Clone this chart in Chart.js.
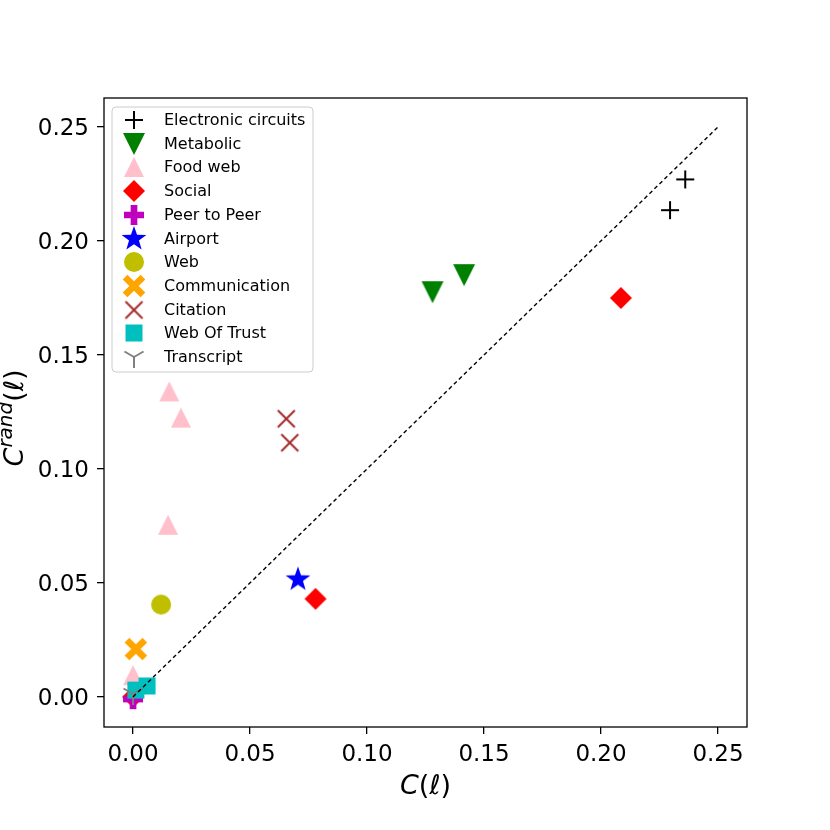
<!DOCTYPE html>
<html>
<head>
<meta charset="utf-8">
<script src="https://cdn.jsdelivr.net/npm/chart.js@4.4.0/dist/chart.umd.min.js"></script>
<style>
  body { margin: 0; background: #fff; }
  #wrap { width: 830px; height: 830px; }
</style>
</head>
<body>
<div id="wrap"><canvas id="myChart" width="830" height="830"></canvas></div>
<script>
// series names (legend order)
const categories = ['Electronic circuits', 'Metabolic', 'Food web', 'Social', 'Peer to Peer',
  'Airport', 'Web', 'Communication', 'Citation', 'Web Of Trust', 'Transcript']

// values: C(l) on x, Crand(l) on y
const circuitsX = [0.236, 0.2295]
const circuitsY = [0.227, 0.2135]
const metabolicX = [0.128, 0.1415]
const metabolicY = [0.1775, 0.185]
const foodwebX = [0.0155, 0.0205, 0.015, 0.0]
const foodwebY = [0.134, 0.1225, 0.0755, 0.0095]
const socialX = [0.2085, 0.078, 0.0]
const socialY = [0.175, 0.043, 0.0]
const p2pX = [0.0]
const p2pY = [-0.001]
const airportX = [0.0705]
const airportY = [0.0515]
const webX = [0.012]
const webY = [0.0405]
const commX = [0.0012]
const commY = [0.021]
const citationX = [0.0655, 0.067]
const citationY = [0.122, 0.1115]
const trustX = [0.0012, 0.006]
const trustY = [0.003, 0.0048]
const transcriptX = [0.0]
const transcriptY = [0.0013]

const xTicks = [0, 0.05, 0.10, 0.15, 0.20, 0.25]
const yTicks = [0, 0.05, 0.10, 0.15, 0.20, 0.25]

// build a marker image like matplotlib's
function marker(kind, color, size) {
  let c = document.createElement('canvas')
  c.width = c.height = size + 6
  let g = c.getContext('2d')
  let m = c.width / 2, r = size / 2
  g.translate(m, m)
  g.fillStyle = color
  g.strokeStyle = color
  g.lineWidth = 2
  g.beginPath()
  switch (kind) {
    case 'plus':
      g.moveTo(-r, 0); g.lineTo(r, 0); g.moveTo(0, -r); g.lineTo(0, r); g.stroke()
      break
    case 'x':
      g.moveTo(-r, -r); g.lineTo(r, r); g.moveTo(-r, r); g.lineTo(r, -r); g.stroke()
      break
    case 'triDown':
      g.moveTo(-r, -r); g.lineTo(r, -r); g.lineTo(0, r); g.closePath(); g.fill()
      break
    case 'triUp':
      g.moveTo(-r, r); g.lineTo(r, r); g.lineTo(0, -r); g.closePath(); g.fill()
      break
    case 'diamond':
      g.moveTo(0, -r); g.lineTo(r, 0); g.lineTo(0, r); g.lineTo(-r, 0); g.closePath(); g.fill()
      break
    case 'square':
      g.fillRect(-r, -r, size, size)
      break
    case 'circle':
      g.arc(0, 0, r, 0, Math.PI * 2); g.fill()
      break
    case 'fatPlus': {
      let a = r / 3
      g.moveTo(-a, -r); g.lineTo(a, -r); g.lineTo(a, -a); g.lineTo(r, -a); g.lineTo(r, a); g.lineTo(a, a)
      g.lineTo(a, r); g.lineTo(-a, r); g.lineTo(-a, a); g.lineTo(-r, a); g.lineTo(-r, -a); g.lineTo(-a, -a)
      g.closePath(); g.fill()
      break
    }
    case 'fatX': {
      g.rotate(Math.PI / 4)
      let a = r * 0.3, b = r * 1.15
      g.moveTo(-a, -b); g.lineTo(a, -b); g.lineTo(a, -a); g.lineTo(b, -a); g.lineTo(b, a); g.lineTo(a, a)
      g.lineTo(a, b); g.lineTo(-a, b); g.lineTo(-a, a); g.lineTo(-b, a); g.lineTo(-b, -a); g.lineTo(-a, -a)
      g.closePath(); g.fill()
      break
    }
    case 'star':
      for (let i = 0; i < 10; i++) {
        let ang = -Math.PI / 2 + i * Math.PI / 5
        let rr = i % 2 == 0 ? r : r * 0.4
        if (i == 0) g.moveTo(rr * Math.cos(ang), rr * Math.sin(ang))
        else g.lineTo(rr * Math.cos(ang), rr * Math.sin(ang))
      }
      g.closePath(); g.fill()
      break
    case 'triY':
      g.moveTo(0, 0); g.lineTo(0, r)
      g.moveTo(0, 0); g.lineTo(-r * 0.866, -r * 0.5)
      g.moveTo(0, 0); g.lineTo(r * 0.866, -r * 0.5)
      g.stroke()
      break
  }
  return c
}

const markers = [
  marker('plus', '#000000', 18),
  marker('triDown', '#008000', 22),
  marker('triUp', '#ffc0cb', 20),
  marker('diamond', '#ff0000', 22),
  marker('fatPlus', '#bf00bf', 20),
  marker('star', '#0000ff', 26),
  marker('circle', '#bfbf00', 20),
  marker('fatX', '#ffa500', 22),
  marker('x', '#a52a2a', 17),
  marker('square', '#00bfbf', 17),
  marker('triY', '#808080', 22)
]

function pts(xs, ys) {
  return xs.map((x, i) => ({ x: x, y: ys[i] }))
}

const seriesData = [
  pts(circuitsX, circuitsY), pts(metabolicX, metabolicY), pts(foodwebX, foodwebY),
  pts(socialX, socialY), pts(p2pX, p2pY), pts(airportX, airportY), pts(webX, webY),
  pts(commX, commY), pts(citationX, citationY), pts(trustX, trustY), pts(transcriptX, transcriptY)
]

let datasets = categories.map((name, i) => ({
  type: 'scatter',
  label: name,
  data: seriesData[i],
  pointStyle: markers[i],
  order: 100 - i
}))

datasets.push({
  type: 'line',
  label: 'diag',
  data: [{ x: 0, y: 0 }, { x: 0.25, y: 0.25 }],
  borderColor: '#000',
  borderWidth: 1.4,
  borderDash: [4, 3],
  pointRadius: 0,
  fill: false,
  order: 0
})

// frame, legend box and axis titles
const extras = {
  id: 'extras',
  afterDraw(chart) {
    let ctx = chart.ctx
    let a = chart.chartArea
    ctx.save()
    ctx.strokeStyle = '#000'
    ctx.lineWidth = 1.3
    ctx.strokeRect(a.left, a.top, a.right - a.left, a.bottom - a.top)

    // legend
    let lx = 112, ly = 107, lw = 201, lh = 265
    ctx.beginPath()
    ctx.roundRect(lx, ly, lw, lh, 4)
    ctx.fillStyle = 'rgba(255,255,255,0.8)'
    ctx.fill()
    ctx.strokeStyle = '#cccccc'
    ctx.lineWidth = 1
    ctx.stroke()
    ctx.font = '16px "DejaVu Sans"'
    ctx.fillStyle = '#000'
    ctx.textBaseline = 'middle'
    ctx.textAlign = 'left'
    categories.forEach((name, i) => {
      let yy = Math.round(120 + i * 23.7)
      let img = markers[i]
      ctx.drawImage(img, 134 - img.width / 2, yy - img.height / 2)
      ctx.fillStyle = '#000'
      ctx.fillText(name, 164, yy + 1)
    })

    // x title: C(l)
    ctx.textBaseline = 'alphabetic'
    const big = 27, small = 20
    ctx.font = `italic ${big}px "DejaVu Sans"`
    let w1 = ctx.measureText('C').width
    ctx.font = `${big}px "DejaVu Sans"`
    let w2 = ctx.measureText('(').width
    ctx.font = `italic ${big}px "DejaVu Sans"`
    let w3 = ctx.measureText('ℓ').width
    ctx.font = `${big}px "DejaVu Sans"`
    let w4 = ctx.measureText(')').width
    let total = w1 + w2 + w3 + w4
    let x0 = (a.left + a.right) / 2 - total / 2
    let by = 794
    ctx.font = `italic ${big}px "DejaVu Sans"`; ctx.fillText('C', x0, by)
    ctx.font = `${big}px "DejaVu Sans"`; ctx.fillText('(', x0 + w1, by)
    ctx.font = `italic ${big}px "DejaVu Sans"`; ctx.fillText('ℓ', x0 + w1 + w2, by)
    ctx.font = `${big}px "DejaVu Sans"`; ctx.fillText(')', x0 + w1 + w2 + w3, by)

    // y title: C^rand(l), rotated
    ctx.translate(23, 418)
    ctx.rotate(-Math.PI / 2)
    ctx.font = `italic ${big}px "DejaVu Sans"`
    let s1 = ctx.measureText('C').width
    ctx.font = `italic ${small}px "DejaVu Sans"`
    let s2 = ctx.measureText('rand').width
    ctx.font = `${big}px "DejaVu Sans"`
    let s3 = ctx.measureText('(').width
    ctx.font = `italic ${big}px "DejaVu Sans"`
    let s4 = ctx.measureText('ℓ').width
    ctx.font = `${big}px "DejaVu Sans"`
    let s5 = ctx.measureText(')').width
    let tot = s1 + s2 + s3 + s4 + s5
    let px = -tot / 2
    ctx.font = `italic ${big}px "DejaVu Sans"`; ctx.fillText('C', px, 0); px += s1
    ctx.font = `italic ${small}px "DejaVu Sans"`; ctx.fillText('rand', px, -11); px += s2
    ctx.font = `${big}px "DejaVu Sans"`; ctx.fillText('(', px, 0); px += s3
    ctx.font = `italic ${big}px "DejaVu Sans"`; ctx.fillText('ℓ', px, 0); px += s4
    ctx.font = `${big}px "DejaVu Sans"`; ctx.fillText(')', px, 0)
    ctx.restore()
  }
}

var ctx = document.getElementById('myChart').getContext('2d')

var myChart = new Chart(ctx, {
  data: { datasets: datasets },
  options: {
    responsive: false,
    animation: false,
    devicePixelRatio: 1,
    layout: { padding: { left: 0, top: 98, right: 83, bottom: 0 } },
    plugins: { legend: { display: false }, tooltip: { enabled: false } },
    scales: {
      x: {
        type: 'linear',
        min: -0.0124,
        max: 0.2624,
        afterBuildTicks: (s) => { s.ticks = xTicks.map(v => ({ value: v })) },
        afterFit: (s) => { s.height = 103 },
        grid: { drawOnChartArea: false, drawTicks: true, tickLength: 7, color: '#000', lineWidth: 1.3 },
        border: { display: false },
        ticks: {
          color: '#000',
          padding: 7,
          maxRotation: 0,
          font: { family: 'DejaVu Sans', size: 23 },
          callback: (v) => v.toFixed(2)
        }
      },
      y: {
        type: 'linear',
        min: -0.0132,
        max: 0.2627,
        afterBuildTicks: (s) => { s.ticks = yTicks.map(v => ({ value: v })) },
        afterFit: (s) => { s.width = 104 },
        grid: { drawOnChartArea: false, drawTicks: true, tickLength: 7, color: '#000', lineWidth: 1.3 },
        border: { display: false },
        ticks: {
          color: '#000',
          padding: 8,
          labelOffset: 2,
          font: { family: 'DejaVu Sans', size: 23 },
          callback: (v) => v.toFixed(2)
        }
      }
    }
  },
  plugins: [extras]
})
</script>
</body>
</html>
